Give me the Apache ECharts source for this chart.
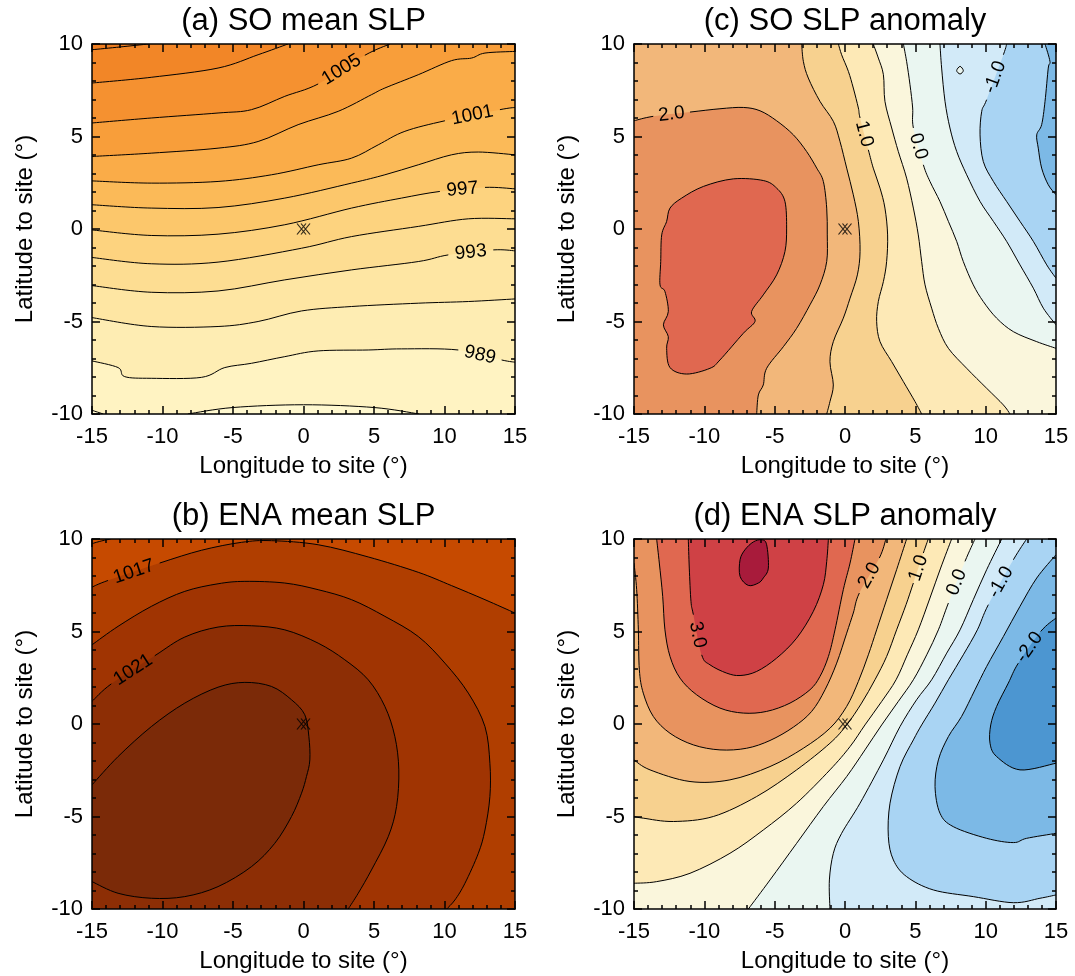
<!DOCTYPE html>
<html>
<head>
<meta charset="utf-8">
<script src="https://cdn.jsdelivr.net/npm/echarts@6/dist/echarts.min.js"></script>
<style>
html, body { margin: 0; background: #fff; }
#chart { width: 1075px; height: 976px; }
</style>
</head>
<body>
<div id="chart"></div>
<script>
// plot window (degrees from site)
var lonRange = [-15, 15];
var latRange = [-10, 10];
var siteXY = [[0, 0]];

// (a) SO mean SLP, hPa. Each line: level, points [lon, lat], which way to close along the frame,
// gap = index of the segment left open for the label
var soMeanLevels = [987, 989, 991, 993, 995, 997, 999, 1001, 1003, 1005, 1007, 1009];
var soMeanLines = [
    {lv: 1009, dir: 'ccw', pts: [[-15, 9.69], [-13, 9.84], [-11, 10]]},
    {lv: 1007, dir: 'ccw', pts: [[-15, 7.89], [-10.8, 8.2], [-6.06, 8.7], [-3.22, 9.42], [-1.1, 10]]},
    {lv: 1005, dir: 'ccw', gap: 5, pts: [[-15, 5.73], [-10.8, 6.0], [-6.06, 6.27], [-3.69, 6.45], [-1.33, 7.17], [1.04, 7.84], [4.35, 9.39], [6.13, 10]]},
    {lv: 1003, dir: 'ccw', pts: [[-15, 3.92], [-10.8, 4.1], [-6.06, 4.37], [-3.22, 4.73], [-0.38, 5.64], [2.46, 6.36], [4.82, 7.26], [5.77, 7.62], [8.14, 8.34], [10.5, 9.1], [11.92, 9.24], [12.87, 9.51], [15, 9.6]]},
    {lv: 1001, dir: 'ccw', gap: 8, pts: [[-15, 2.6], [-10.8, 2.48], [-6.06, 2.57], [-2.27, 2.93], [1.04, 3.47], [3.41, 3.83], [5.3, 4.55], [7.19, 5.28], [10.03, 5.85], [13.93, 6.45], [15, 6.57]]},
    {lv: 999, dir: 'ccw', pts: [[-15, 1.31], [-10.8, 1.13], [-6.06, 1.16], [-1.33, 1.67], [3.41, 2.48], [5.77, 2.93], [8.14, 3.47], [10.5, 4.01], [12.4, 4.16], [15, 4.01]]},
    {lv: 997, dir: 'ccw', gap: 6, pts: [[-15, -0.05], [-10.8, -0.35], [-6.06, -0.28], [-1.33, 0.23], [3.41, 1.13], [6.95, 1.67], [9.67, 2.03], [12.87, 2.25], [15, 2.17]]},
    {lv: 995, dir: 'ccw', pts: [[-15, -1.54], [-10.8, -1.88], [-6.06, -1.79], [-0.14, -1.04], [3.41, -0.41], [8.14, 0.14], [11.69, 0.55], [15, 0.55]]},
    {lv: 993, dir: 'ccw', gap: 6, pts: [[-15, -3.06], [-10.8, -3.42], [-6.06, -3.35], [-1.33, -2.75], [3.41, -2.21], [8.14, -1.76], [10.27, -1.4], [13.46, -1.13], [15, -1.18]]},
    {lv: 991, dir: 'ccw', pts: [[-15, -4.79], [-10.8, -5.27], [-6.06, -5.27], [-3.22, -5.0], [-0.14, -4.43], [3.41, -4.19], [8.14, -4.01], [11.69, -3.92], [15, -3.78]]},
    {lv: 989, dir: 'ccw', gap: 11, pts: [[-15, -7.13], [-13.15, -7.49], [-12.68, -7.98], [-10.8, -8.07], [-7.24, -8.02], [-5.58, -7.49], [-3.69, -7.26], [-1.33, -6.9], [1.04, -6.59], [4.59, -6.54], [6.96, -6.48], [10.98, -6.54], [14.05, -7.08], [15, -7.2]]},
    {lv: 987, dir: 'ccw', pts: [[-8.2, -10], [-5, -9.65], [0, -9.5], [5, -9.65], [8.2, -10]]},
    {lv: 987, dir: 'cw', low: true, pts: [[-15, -9.8], [-14.2, -10]]}
];

// (b) ENA mean SLP, hPa
var enaMeanLevels = [1015, 1017, 1019, 1021, 1023];
var enaMeanLines = [
    {lv: 1015, dir: 'cw', pts: [[-15, 9.75], [-14.3, 9.9], [-13.68, 10]]},
    {lv: 1017, dir: 'cw', gap: 1, pts: [[-15, 7.4], [-13.86, 7.76], [-10.2, 8.7], [-7.24, 9.39], [-4.4, 9.82], [-2.27, 9.91], [1.04, 9.69], [4.59, 9.03], [8.14, 8.2], [10.5, 7.48], [12.87, 6.72], [15, 6.0]]},
    {lv: 1019, dir: 'cw', pts: [[-15, 4.28], [-13.15, 5.28], [-10.79, 6.36], [-8.42, 7.17], [-6.06, 7.58], [-4.16, 7.71], [-1.33, 7.62], [1.04, 7.26], [3.41, 6.72], [5.77, 5.82], [8.14, 4.73], [10.03, 3.29], [11.69, 1.67], [12.87, -0.14], [13.22, -2.12], [13.22, -3.92], [12.87, -5.73], [12.4, -6.99], [11.45, -8.61], [10.74, -9.51], [10.15, -10]]},
    {lv: 1021, dir: 'cw', gap: 1, pts: [[-15, 1.22], [-13.63, 2.17], [-10.55, 3.69], [-8.42, 4.7], [-6.06, 5.24], [-3.69, 5.31], [-1.33, 5.09], [1.04, 4.37], [2.93, 3.47], [4.59, 2.39], [5.77, 0.95], [6.48, -0.68], [6.76, -2.48], [6.6, -4.46], [6.01, -6.09], [4.82, -7.89], [3.88, -9.15], [3.17, -10]]},
    {lv: 1023, dir: 'cw', pts: [[-15, -3.29], [-13.15, -1.76], [-10.79, -0.14], [-8.42, 1.13], [-6.06, 1.99], [-4.16, 2.25], [-2.27, 2.03], [-0.85, 1.31], [0.09, 0.5], [0.38, -0.68], [0.45, -1.94], [0.21, -2.84], [-0.14, -3.74], [-0.85, -5.0], [-2.04, -6.45], [-3.69, -7.71], [-6.06, -8.79], [-8.42, -9.33], [-10.79, -9.42], [-13.15, -9.15], [-15, -8.52]]}
];

// (c) SO SLP anomaly and (d) ENA SLP anomaly, hPa
var anomLevels = [-2, -1.5, -1, -0.5, 0, 0.5, 1, 1.5, 2, 2.5, 3, 3.5];
var soAnomLines = [
    {lv: 2.5, dir: 'closed', pts: [[-12.44, 1.13], [-11.61, 1.67], [-10.07, 2.3], [-7.94, 2.71], [-5.81, 2.62], [-4.86, 2.21], [-4.27, 1.49], [-4.15, 0.05], [-4.27, -1.22], [-4.86, -2.48], [-5.81, -3.56], [-6.64, -4.46], [-6.4, -5.0], [-7.23, -5.64], [-8.89, -7.08], [-9.6, -7.53], [-11.26, -7.84], [-12.44, -7.49], [-12.68, -6.45], [-12.56, -5.82], [-12.91, -5.18], [-12.56, -4.46], [-12.8, -3.38], [-13.15, -3.02], [-13.1, -1.76], [-13.03, -0.32], [-12.68, 0.41]]},
    {lv: 2.0, dir: 'cw', gap: 1, pts: [[-15, 5.85], [-13.63, 6.09], [-11.02, 6.32], [-8.89, 6.5], [-7.23, 6.57], [-6.04, 6.39], [-4.86, 5.85], [-3.67, 5.09], [-2.73, 4.19], [-2.01, 3.29], [-1.54, 2.57], [-1.3, 1.13], [-1.26, -0.32], [-1.3, -1.76], [-1.78, -3.02], [-2.49, -4.1], [-3.44, -5.37], [-4.38, -6.36], [-5.57, -7.53], [-5.81, -8.43], [-6.16, -8.97], [-6.28, -10]]},
    {lv: 1.5, dir: 'cw', pts: [[-3.08, 10], [-2.96, 9.06], [-2.61, 8.16], [-1.78, 6.9], [-0.83, 5.82], [-0.36, 4.74], [0.12, 3.29], [0.59, 1.85], [0.95, 0.41], [1.07, -1.22], [0.88, -2.48], [0.36, -3.74], [-0.12, -4.82], [-0.83, -6.09], [-1.07, -7.17], [-0.83, -8.43], [-1.07, -9.33], [-1.3, -10]]},
    {lv: 1.0, dir: 'cw', gap: 5, pts: [[-0.47, 10], [-0.24, 9.42], [0.24, 8.52], [0.59, 7.62], [0.95, 6.54], [1.07, 6.0], [1.66, 4.28], [2.01, 3.29], [2.49, 2.21], [2.84, 1.13], [3.03, -0.32], [2.96, -1.76], [2.73, -2.84], [2.37, -3.92], [2.25, -5.0], [2.49, -6.09], [3.32, -7.17], [4.15, -8.25], [4.98, -9.33], [5.45, -10]]},
    {lv: 0.5, dir: 'cw', pts: [[2.01, 10], [2.37, 9.24], [2.73, 8.34], [2.84, 6.9], [3.32, 5.46], [3.79, 4.19], [4.38, 2.75], [4.86, 1.13], [5.21, -0.32], [5.45, -1.76], [5.69, -3.02], [6.16, -4.28], [6.64, -5.37], [7.35, -6.45], [8.65, -7.53], [10.07, -8.61], [11.26, -9.51], [11.73, -10]]},
    {lv: 0.0, dir: 'cw', gap: 4, pts: [[4.15, 10], [4.38, 9.06], [4.62, 7.8], [4.81, 6.54], [4.86, 5.46], [5.57, 3.47], [6.04, 2.57], [6.75, 1.49], [7.35, 0.41], [7.94, -0.67], [8.41, -1.76], [9.12, -3.02], [9.83, -3.92], [10.78, -4.82], [11.97, -5.55], [13.63, -6.09], [15, -6.45]]},
    {lv: -0.5, dir: 'cw', pts: [[6.75, 10], [6.87, 8.7], [7.11, 6.9], [7.46, 5.46], [7.94, 4.19], [8.65, 2.93], [9.6, 1.49], [10.55, 0.41], [11.49, -0.67], [12.44, -1.94], [13.39, -3.2], [14.1, -4.28], [15, -5.18]]},
    {lv: -0.5, dir: 'closed', pts: [[7.94, 8.56], [8.18, 8.79], [8.41, 8.56], [8.18, 8.38]]},
    {lv: -1.0, dir: 'cw', gap: 1, pts: [[11.49, 10], [11.26, 9.42], [10.07, 6.99], [9.72, 6.36], [9.6, 5.09], [9.83, 3.65], [10.55, 2.57], [11.49, 1.49], [12.44, 0.41], [13.39, -0.67], [14.34, -1.94], [15, -2.66]]},
    {lv: -1.5, dir: 'cw', pts: [[14.22, 10], [14.57, 9.06], [14.45, 8.7], [14.22, 6.9], [13.98, 5.64], [13.63, 5.09], [13.74, 4.37], [13.98, 3.29], [14.45, 2.39], [15, 1.85]]}
];
var enaAnomLines = [
    {lv: 3.5, dir: 'closed', pts: [[-7.11, 9.42], [-6.52, 9.84], [-5.92, 9.96], [-5.57, 9.69], [-5.45, 8.43], [-5.81, 7.89], [-6.16, 7.62], [-6.87, 7.49], [-7.46, 7.98], [-7.46, 8.88]]},
    {lv: 3.0, dir: 'ccw', gap: 3, pts: [[-11.14, 10], [-11.07, 8.43], [-10.95, 6.63], [-10.78, 5.91], [-10.19, 3.74], [-9.6, 3.2], [-8.41, 2.75], [-7.46, 2.62], [-6.28, 2.84], [-4.86, 3.56], [-3.44, 4.64], [-2.25, 6.09], [-1.54, 7.53], [-1.3, 8.79], [-1.18, 10]]},
    {lv: 2.5, dir: 'ccw', pts: [[-13.39, 10], [-13.2, 8.7], [-12.96, 6.9], [-12.8, 5.09], [-12.44, 3.65], [-11.73, 2.48], [-10.55, 1.58], [-8.89, 0.86], [-7.23, 0.59], [-5.57, 0.68], [-3.91, 1.13], [-2.49, 1.85], [-1.78, 2.57], [-1.18, 3.65], [-0.71, 5.09], [-0.12, 7.26], [0.36, 8.7], [0.71, 10]]},
    {lv: 2.0, dir: 'ccw', gap: 17, pts: [[-15, 8.7], [-14.81, 7.26], [-14.69, 5.09], [-14.62, 2.93], [-14.34, 1.67], [-13.63, 0.41], [-12.44, -0.5], [-10.78, -1.13], [-8.89, -1.4], [-6.99, -1.31], [-5.33, -0.89], [-3.67, -0.17], [-2.37, 0.68], [-1.42, 1.85], [-0.59, 3.29], [0.12, 4.91], [0.59, 6.0], [1.02, 7.08], [2.44, 8.97], [2.91, 10]]},
    {lv: 1.5, dir: 'ccw', pts: [[-15, -1.94], [-13.86, -2.48], [-11.02, -3.11], [-8.18, -3.02], [-5.33, -2.3], [-2.96, -1.31], [-1.07, -0.23], [0.12, 0.95], [0.95, 2.3], [1.66, 3.74], [2.25, 5.09], [2.96, 6.72], [3.67, 8.34], [4.38, 10]]},
    {lv: 1.0, dir: 'ccw', gap: 13, pts: [[-15, -5.0], [-14.34, -5.09], [-12.2, -5.27], [-9.36, -5.0], [-6.28, -3.92], [-3.44, -2.48], [-1.07, -1.04], [0.12, -0.05], [1.18, 1.13], [2.13, 2.39], [2.96, 3.65], [3.67, 5.09], [4.34, 6.45], [4.86, 7.62], [5.57, 9.24], [5.92, 10]]},
    {lv: 0.5, dir: 'ccw', pts: [[-15, -8.61], [-13.39, -8.52], [-11.02, -8.07], [-8.18, -6.99], [-5.81, -5.73], [-3.44, -4.28], [-1.07, -2.48], [0.36, -1.22], [1.42, -0.05], [2.61, 1.22], [3.63, 2.39], [4.43, 3.74], [5.21, 5.09], [6.04, 6.81], [6.8, 8.43], [7.58, 10]]},
    {lv: 0.0, dir: 'ccw', gap: 11, pts: [[-6.87, -10], [-5.33, -8.43], [-3.44, -6.45], [-1.54, -4.46], [0.12, -2.84], [1.42, -1.4], [2.61, -0.05], [3.79, 1.22], [4.86, 2.39], [5.81, 3.74], [6.64, 5.09], [7.35, 6.54], [8.53, 8.79], [9.24, 10]]},
    {lv: -0.5, dir: 'ccw', pts: [[-1.07, -10], [-1.11, -8.43], [-0.83, -6.99], [-0.24, -5.91], [1.07, -4.28], [2.73, -1.94], [3.91, -0.14], [5.09, 1.31], [6.16, 2.39], [7.23, 3.83], [8.18, 5.09], [9.12, 6.72], [10.07, 8.34], [11.14, 10]]},
    {lv: -1.0, dir: 'ccw', gap: 16, pts: [[15, -9.24], [13.86, -9.42], [11.97, -9.66], [9.12, -9.33], [6.28, -8.97], [4.38, -8.25], [3.44, -7.35], [3.08, -6.09], [3.2, -4.28], [3.91, -2.3], [4.86, -0.86], [5.45, -0.05], [6.4, 1.13], [7.35, 2.39], [8.41, 3.74], [9.41, 5.09], [10.19, 6.45], [11.97, 8.88], [12.91, 10]]},
    {lv: -1.5, dir: 'ccw', pts: [[15, -5.91], [12.91, -6.18], [11.97, -6.41], [10.07, -6.18], [7.7, -5.55], [6.75, -4.82], [6.4, -3.38], [6.64, -1.94], [7.35, -0.68], [8.29, 0.41], [9.24, 1.85], [10.07, 3.11], [11.26, 4.73], [12.44, 6.36], [13.63, 7.89], [15, 9.15]]},
    {lv: -2.0, dir: 'ccw', gap: 7, pts: [[15, -2.12], [12.44, -2.48], [10.78, -1.76], [10.31, -1.04], [10.36, -0.05], [10.78, 0.95], [11.61, 2.21], [12.32, 3.29], [13.91, 5.0], [15, 5.73]]}
];

// fill colours, lowest band first
var soMeanColors = ['#FFF8CF', '#FFF3C2', '#FEEDB3', '#FEE6A3', '#FDDD92', '#FDD37F', '#FCC76B', '#FBBA58', '#FAAC48', '#F89E3A', '#F59130', '#F28627', '#EE7E21'];
var enaMeanColors = ['#D05200', '#C64A00', '#B03E00', '#A03402', '#8D2E05', '#7B2A08'];
var anomColors = ['#4C96D1', '#7CB9E6', '#A9D4F3', '#D2EAF8', '#EAF6F1', '#FAF6DC', '#FDE9B6', '#F7D18F', '#F2B77A', '#E8935F', '#E06850', '#CF4145', '#A81B3B'];

var FONT = "'Liberation Sans', Arial, Helvetica, sans-serif";

// position along the frame, counter-clockwise from the lower left corner
function edgePos(p) {
    var w = lonRange[1] - lonRange[0], h = latRange[1] - latRange[0];
    var x = p[0] - lonRange[0], y = p[1] - latRange[0];
    var d = [y, w - x, h - y, x];
    var e = d.indexOf(Math.min.apply(null, d));
    return [x, w + y, w + h + (w - x), 2 * w + h + (h - y)][e];
}

// frame corners met when going from one end of a line back to its start
function walk(from, to, dir) {
    var w = lonRange[1] - lonRange[0], h = latRange[1] - latRange[0], per = 2 * (w + h);
    var corners = [[lonRange[0], latRange[0], 0], [lonRange[1], latRange[0], w],
        [lonRange[1], latRange[1], w + h], [lonRange[0], latRange[1], 2 * w + h]];
    var t0 = edgePos(from), t1 = edgePos(to), sgn = dir === 'ccw' ? 1 : -1;
    var span = (((t1 - t0) * sgn) % per + per) % per;
    return corners.map(function (c) {
            return [c[0], c[1], (((c[2] - t0) * sgn) % per + per) % per];
        })
        .filter(function (c) { return c[2] > 0 && c[2] < span; })
        .sort(function (a, b) { return a[2] - b[2]; })
        .map(function (c) { return [c[0], c[1]]; });
}

function fillItems(lines, levels, colors) {
    var lo = Math.min.apply(null, lines.map(function (l) { return l.lv; }));
    var out = [{line: null, frame: [[lonRange[0], latRange[0]], [lonRange[1], latRange[0]], [lonRange[1], latRange[1]], [lonRange[0], latRange[1]]],
        color: colors[levels.indexOf(lo)]}];
    lines.slice().sort(function (a, b) {
        return (a.lv - b.lv) || ((a.low ? 1 : 0) - (b.low ? 1 : 0));
    }).forEach(function (ln) {
        var k = levels.indexOf(ln.lv);
        out.push({
            line: ln,
            frame: ln.dir === 'closed' ? [] : walk(ln.pts[ln.pts.length - 1], ln.pts[0], ln.dir),
            color: ln.low ? colors[k] : colors[k + 1]
        });
    });
    return out;
}

// smooth curve through screen points (Catmull-Rom as cubic Bezier)
function xy(p) { return p[0].toFixed(2) + ' ' + p[1].toFixed(2); }
function seg(px, i, closed) {
    var n = px.length;
    function at(k) { return closed ? px[(k + n) % n] : px[Math.max(0, Math.min(n - 1, k))]; }
    var p0 = at(i - 1), p1 = at(i), p2 = at(i + 1), p3 = at(i + 2), t = 1 / 6;
    var c1 = [p1[0] + (p2[0] - p0[0]) * t, p1[1] + (p2[1] - p0[1]) * t];
    var c2 = [p2[0] - (p3[0] - p1[0]) * t, p2[1] - (p3[1] - p1[1]) * t];
    return ' C' + xy(c1) + ' ' + xy(c2) + ' ' + xy(p2);
}
function curve(px, from, to, closed) {
    var d = 'M' + xy(px[from]);
    for (var i = from; i < to; i++) d += seg(px, i, closed);
    return d;
}

function clipRect(params) {
    var cs = params.coordSys;
    return {type: 'rect', shape: {x: cs.x, y: cs.y, width: cs.width, height: cs.height}};
}

function fillSeries(gi, items) {
    return {
        type: 'custom', xAxisIndex: 2 * gi, yAxisIndex: 2 * gi, data: [[0, 0]],
        silent: true, z: 1,
        renderItem: function (params, api) {
            var toPx = function (p) { return api.coord(p); };
            return {
                type: 'group',
                clipPath: clipRect(params),
                children: items.map(function (it) {
                    var d;
                    if (!it.line) {
                        d = 'M' + it.frame.map(toPx).map(xy).join(' L') + ' Z';
                    } else {
                        var px = it.line.pts.map(toPx), closed = it.line.dir === 'closed';
                        d = curve(px, 0, closed ? px.length : px.length - 1, closed);
                        it.frame.map(toPx).forEach(function (c) { d += ' L' + xy(c); });
                        d += ' Z';
                    }
                    return {type: 'path', shape: {pathData: d}, style: {fill: it.color}};
                })
            };
        }
    };
}

function lineSeries(gi, lines, digits) {
    return {
        type: 'custom', xAxisIndex: 2 * gi, yAxisIndex: 2 * gi, data: [[0, 0]],
        silent: true, z: 2,
        renderItem: function (params, api) {
            var kids = [];
            lines.forEach(function (ln) {
                var px = ln.pts.map(function (p) { return api.coord(p); });
                var closed = ln.dir === 'closed', n = px.length;
                var d;
                if (closed) d = curve(px, 0, n, true) + ' Z';
                else if (ln.gap >= 0) d = curve(px, 0, ln.gap, false) + ' ' + curve(px, ln.gap + 1, n - 1, false);
                else d = curve(px, 0, n - 1, false);
                kids.push({type: 'path', shape: {pathData: d},
                    style: {stroke: '#000', lineWidth: 1, fill: 'none'}});
                if (ln.gap >= 0) {
                    var a = px[ln.gap], b = px[ln.gap + 1];
                    var ang = Math.atan2(b[1] - a[1], b[0] - a[0]);
                    if (ang > Math.PI / 2) ang -= Math.PI;
                    else if (ang < -Math.PI / 2) ang += Math.PI;
                    kids.push({
                        type: 'text', x: (a[0] + b[0]) / 2, y: (a[1] + b[1]) / 2, rotation: -ang,
                        style: {text: ln.lv.toFixed(digits), fill: '#000', font: '19px ' + FONT,
                            align: 'center', verticalAlign: 'middle'}
                    });
                }
            });
            return {type: 'group', clipPath: clipRect(params), children: kids};
        }
    };
}

var grids = [
    {left: 92, top: 44, width: 423, height: 370},
    {left: 634, top: 44, width: 422, height: 370},
    {left: 92, top: 539, width: 423, height: 370},
    {left: 634, top: 539, width: 422, height: 370}
];
var panels = [
    {title: '(a) SO mean SLP', lines: soMeanLines, levels: soMeanLevels, colors: soMeanColors, digits: 0},
    {title: '(c) SO SLP anomaly', lines: soAnomLines, levels: anomLevels, colors: anomColors, digits: 1},
    {title: '(b) ENA mean SLP', lines: enaMeanLines, levels: enaMeanLevels, colors: enaMeanColors, digits: 0},
    {title: '(d) ENA SLP anomaly', lines: enaAnomLines, levels: anomLevels, colors: anomColors, digits: 1}
];

function axisBase(gi, main) {
    return {
        gridIndex: gi, type: 'value', zlevel: 1, z: 10,
        axisLine: {show: true, onZero: false, lineStyle: {color: '#000', width: 1.5}},
        axisTick: {show: true, inside: true, length: 8, lineStyle: {color: '#000', width: 1.5}},
        minorTick: {show: true, splitNumber: 5, length: 4, lineStyle: {color: '#000', width: 1.5}},
        splitLine: {show: false},
        minorSplitLine: {show: false},
        axisLabel: {show: main, color: '#000', fontSize: 22, fontFamily: FONT, showMinLabel: true, showMaxLabel: true},
        nameLocation: 'middle',
        nameTextStyle: {color: '#000', fontSize: 24, fontFamily: FONT}
    };
}

var xAxes = [], yAxes = [], series = [], graphics = [];
grids.forEach(function (g, gi) {
    ['bottom', 'top'].forEach(function (pos) {
        var ax = axisBase(gi, pos === 'bottom');
        ax.position = pos;
        ax.min = lonRange[0]; ax.max = lonRange[1]; ax.interval = 5;
        ax.axisLabel.margin = 12;
        if (pos === 'bottom') { ax.name = 'Longitude to site (°)'; ax.nameGap = 40; }
        xAxes.push(ax);
    });
    ['left', 'right'].forEach(function (pos) {
        var ax = axisBase(gi, pos === 'left');
        ax.position = pos;
        ax.min = latRange[0]; ax.max = latRange[1]; ax.interval = 5;
        ax.axisLabel.margin = 9;
        if (pos === 'left') { ax.name = 'Latitude to site (°)'; ax.nameGap = 55; }
        yAxes.push(ax);
    });
    var p = panels[gi];
    series.push(fillSeries(gi, fillItems(p.lines, p.levels, p.colors)));
    series.push(lineSeries(gi, p.lines, p.digits));
    series.push({
        type: 'scatter', xAxisIndex: 2 * gi, yAxisIndex: 2 * gi, data: siteXY, z: 5, silent: true,
        symbol: 'path://M0,0L9,10M9,0L0,10M4,0L13,10M13,0L4,10', symbolSize: [13, 11],
        itemStyle: {color: 'rgba(0,0,0,0)', borderColor: '#000', borderWidth: 1.1}
    });
    graphics.push({
        type: 'text', x: g.left + g.width / 2, y: g.top - 23,
        style: {text: p.title, fill: '#000', font: '31px ' + FONT, align: 'center', verticalAlign: 'middle'}
    });
});

var chart = echarts.init(document.getElementById('chart'));
chart.setOption({
    animation: false,
    backgroundColor: '#fff',
    grid: grids.map(function (g) {
        return {left: g.left, top: g.top, width: g.width, height: g.height, containLabel: false, outerBoundsMode: 'none'};
    }),
    xAxis: xAxes,
    yAxis: yAxes,
    graphic: graphics,
    series: series
});
</script>
</body>
</html>
